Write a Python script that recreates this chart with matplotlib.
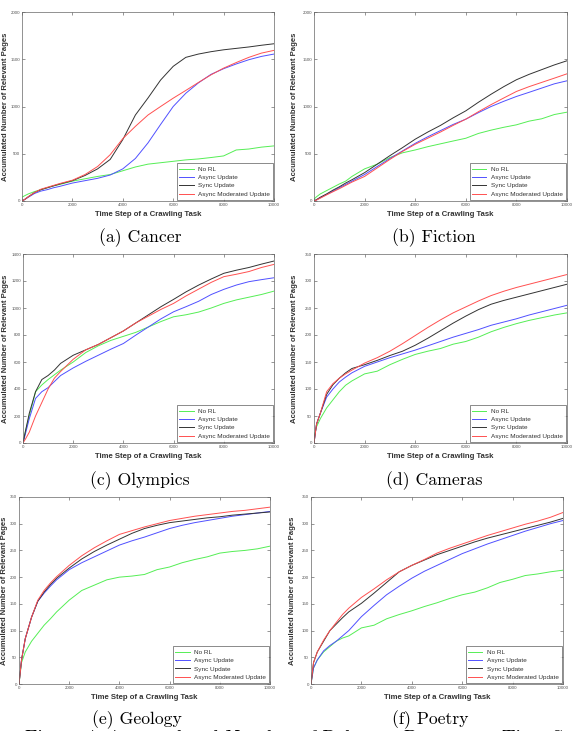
import matplotlib
matplotlib.use("Agg")
import matplotlib.pyplot as plt

plt.rcParams["font.family"] = ["Liberation Sans", "DejaVu Sans"]

W, H = 576, 731

steps = [0, 100, 250, 500, 750, 1000, 1250, 1500, 2000, 2500, 3000, 3500, 4000,
         4500, 5000, 5500, 6000, 6500, 7000, 7500, 8000, 8500, 9000, 9500, 10000]

series_names = ["No RL", "Async Update", "Sync Update", "Async Moderated Update"]
series_colors = ["#55ee55", "#5050ff", "#333333", "#ff5050"]

# (a) Cancer
cancer_norl  = [40, 55, 75, 100, 120, 140, 160, 175, 210, 235, 260, 280, 320, 360, 390, 405, 420, 435, 445, 460, 477, 540, 550, 570, 583]
cancer_async = [0, 15, 40, 80, 105, 120, 140, 155, 190, 215, 240, 275, 340, 450, 615, 810, 1000, 1140, 1250, 1340, 1400, 1450, 1495, 1530, 1555]
cancer_sync  = [0, 15, 45, 90, 120, 140, 160, 180, 215, 270, 340, 440, 650, 910, 1090, 1280, 1425, 1520, 1555, 1580, 1600, 1615, 1630, 1648, 1664]
cancer_mod   = [0, 15, 45, 90, 125, 145, 165, 185, 220, 280, 365, 490, 660, 790, 910, 1000, 1088, 1170, 1254, 1335, 1406, 1465, 1520, 1565, 1594]

# (b) Fiction
fiction_norl  = [20, 45, 75, 110, 145, 180, 210, 260, 340, 390, 460, 510, 540, 575, 605, 635, 664, 715, 750, 780, 806, 845, 870, 915, 940]
fiction_async = [0, 12, 35, 70, 105, 140, 175, 210, 280, 365, 450, 530, 610, 680, 745, 810, 866, 935, 1000, 1055, 1106, 1150, 1195, 1240, 1272]
fiction_sync  = [0, 15, 40, 75, 115, 150, 190, 225, 300, 390, 480, 565, 654, 730, 800, 880, 954, 1045, 1130, 1210, 1283, 1340, 1390, 1440, 1484]
fiction_mod   = [0, 10, 30, 65, 98, 130, 165, 200, 260, 350, 440, 525, 600, 665, 730, 800, 866, 945, 1020, 1090, 1159, 1210, 1255, 1300, 1346]

# (c) Olympics
olympics_norl  = [0, 90, 200, 380, 430, 470, 505, 540, 600, 670, 720, 760, 790, 820, 860, 900, 935, 950, 970, 1000, 1034, 1060, 1080, 1100, 1125]
olympics_async = [0, 70, 180, 330, 380, 410, 455, 500, 556, 605, 650, 695, 737, 800, 860, 920, 972, 1010, 1050, 1100, 1138, 1170, 1195, 1210, 1224]
olympics_sync  = [0, 90, 220, 380, 470, 500, 540, 590, 650, 690, 730, 780, 830, 890, 950, 1010, 1064, 1120, 1170, 1215, 1257, 1280, 1300, 1325, 1348]
olympics_mod   = [0, 30, 80, 200, 300, 400, 480, 530, 620, 690, 730, 780, 830, 890, 940, 990, 1034, 1090, 1140, 1190, 1232, 1250, 1270, 1300, 1323]

# (d) Cameras
cameras_norl  = [10, 30, 45, 65, 80, 95, 107, 115, 128, 133, 145, 155, 164, 170, 175, 183, 188, 196, 206, 214, 221, 227, 232, 237, 241]
cameras_async = [0, 35, 55, 85, 100, 113, 122, 130, 142, 150, 158, 165, 172, 180, 188, 196, 203, 210, 218, 224, 230, 237, 243, 249, 255]
cameras_sync  = [0, 35, 55, 90, 108, 120, 130, 138, 145, 153, 162, 170, 181, 194, 208, 222, 235, 247, 257, 264, 270, 276, 282, 288, 294]
cameras_mod   = [0, 35, 55, 95, 110, 120, 128, 135, 148, 158, 170, 184, 199, 214, 228, 241, 252, 263, 273, 281, 288, 294, 300, 306, 312]

# (e) Geology
geology_norl  = [0, 40, 60, 80, 95, 110, 122, 135, 157, 175, 185, 195, 200, 202, 205, 214, 219, 227, 233, 238, 245, 248, 250, 253, 258]
geology_async = [0, 45, 85, 125, 155, 170, 183, 195, 214, 227, 238, 249, 260, 268, 275, 283, 291, 297, 302, 306, 310, 314, 317, 320, 323]
geology_sync  = [0, 45, 85, 125, 155, 172, 186, 198, 217, 234, 248, 260, 271, 282, 291, 297, 302, 305, 308, 311, 313, 316, 318, 320, 322]
geology_mod   = [0, 45, 85, 125, 157, 175, 189, 201, 222, 240, 255, 268, 280, 287, 294, 300, 306, 310, 314, 317, 320, 323, 325, 328, 331]

# (f) Poetry
poetry_norl  = [0, 30, 45, 60, 70, 80, 86, 90, 105, 110, 122, 130, 137, 145, 152, 160, 167, 172, 180, 190, 196, 203, 206, 210, 213]
poetry_async = [0, 30, 45, 62, 72, 80, 90, 100, 126, 147, 167, 183, 198, 211, 222, 233, 244, 253, 262, 270, 278, 286, 293, 300, 306]
poetry_sync  = [0, 40, 60, 80, 100, 112, 124, 135, 151, 170, 190, 210, 222, 232, 242, 250, 258, 266, 273, 279, 285, 291, 297, 303, 310]
poetry_mod   = [0, 40, 60, 82, 100, 115, 130, 142, 162, 178, 195, 210, 222, 233, 245, 254, 262, 270, 278, 285, 292, 299, 305, 312, 321]

panels = [
    ("(a) Cancer",   [cancer_norl, cancer_async, cancer_sync, cancer_mod],       2000, 500),
    ("(b) Fiction",  [fiction_norl, fiction_async, fiction_sync, fiction_mod],   2000, 500),
    ("(c) Olympics", [olympics_norl, olympics_async, olympics_sync, olympics_mod], 1400, 200),
    ("(d) Cameras",  [cameras_norl, cameras_async, cameras_sync, cameras_mod],   350, 50),
    ("(e) Geology",  [geology_norl, geology_async, geology_sync, geology_mod],   350, 50),
    ("(f) Poetry",   [poetry_norl, poetry_async, poetry_sync, poetry_mod],       350, 50),
]

# pixel boxes: left, right, top, bottom
boxes = [(22, 274, 12, 201), (314, 567, 12, 201),
         (23, 274, 254, 443), (314, 567, 254, 443),
         (19, 270, 497, 684), (311, 563, 497, 684)]
ylabel_x = [9.5, 298, 9.5, 298, 8.5, 296]
caption_pos = [(140, 238), (434, 238), (140, 481), (434, 481), (137, 720), (430, 720)]

fig = plt.figure(figsize=(W / 100, H / 100), dpi=100)

for (title, data, ymax, ystep), (l, r, t, b), yx, (cx, cy) in zip(panels, boxes, ylabel_x, caption_pos):
    ax = fig.add_axes([l / W, (H - b) / H, (r - l) / W, (b - t) / H])
    for vals, name, col in zip(data, series_names, series_colors):
        ax.plot(steps, vals, color=col, lw=0.7, label=name)
    ax.set_xlim(0, 10000)
    ax.set_ylim(0, ymax)
    ax.set_xticks(range(0, 10001, 2000))
    ax.set_yticks(range(0, ymax + 1, ystep))
    ax.tick_params(direction="in", top=True, right=True, length=2, width=0.4,
                   labelsize=3.2, pad=1.5, colors="#444444", labelcolor="#555555")
    for sp in ax.spines.values():
        sp.set_linewidth(0.5)
        sp.set_color("#666666")
    ax.set_xlabel("Time Step of a Crawling Task", fontsize=5.6, fontweight="bold",
                  color="#333333", labelpad=2.5)
    ax.set_ylabel("Accumulated Number of Relevant Pages", fontsize=5.6,
                  fontweight="bold", color="#333333")
    ax.yaxis.set_label_coords((yx - l) / (r - l), 0.5)
    leg = ax.legend(loc="lower right", fontsize=4.6, frameon=True, fancybox=False,
                    borderaxespad=0.2, handlelength=2.2, labelspacing=0.45,
                    borderpad=0.45, handletextpad=0.7)
    leg.get_frame().set_edgecolor("#333333")
    leg.get_frame().set_linewidth(0.5)
    for txt in leg.get_texts():
        txt.set_color("#333333")
    fig.text(cx / W, (H - cy) / H, title, ha="center", va="center",
             fontsize=12.7, family="cmr10")

fig.text(25 / W, (H - 729.5) / H,
         "Figure 4: Accumulated Number of Relevant Pages over Time Steps",
         ha="left", va="top", fontsize=14, family="cmr10")

fig.savefig("out.png", dpi=100)
